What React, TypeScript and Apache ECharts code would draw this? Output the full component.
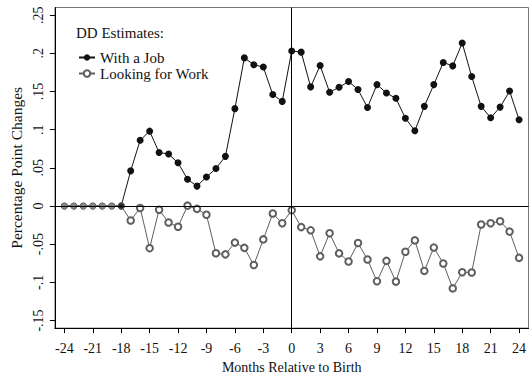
import React, { useEffect, useRef } from "react";
import * as echarts from "echarts";

const months = [-24,-23,-22,-21,-20,-19,-18,-17,-16,-15,-14,-13,-12,-11,-10,-9,-8,-7,-6,-5,-4,-3,-2,-1,0,1,2,3,4,5,6,7,8,9,10,11,12,13,14,15,16,17,18,19,20,21,22,23,24];
const withJob = [0,0,0,0,0,0,0,0.046,0.086,0.098,0.070,0.068,0.0565,0.035,0.026,0.038,0.049,0.065,0.1275,0.194,0.185,0.182,0.146,0.137,0.203,0.2015,0.156,0.184,0.149,0.1555,0.163,0.1525,0.129,0.159,0.148,0.141,0.115,0.0985,0.1305,0.159,0.188,0.1835,0.2135,0.1695,0.1305,0.1155,0.1295,0.1505,0.113];
const lookingForWork = [0,0,0,0,0,0,0,-0.019,-0.0026,-0.0553,-0.005,-0.0217,-0.0273,0.0004,-0.0038,-0.0115,-0.062,-0.0634,-0.048,-0.0549,-0.0774,-0.0438,-0.0098,-0.0226,-0.0056,-0.0277,-0.0319,-0.066,-0.0357,-0.0621,-0.0727,-0.0485,-0.0702,-0.0987,-0.0719,-0.0991,-0.060,-0.0451,-0.0851,-0.0545,-0.0753,-0.108,-0.0868,-0.0872,-0.0243,-0.0226,-0.020,-0.0336,-0.068];
const xTicks = [-24,-21,-18,-15,-12,-9,-6,-3,0,3,6,9,12,15,18,21,24];
const yTicks = [-0.15,-0.1,-0.05,0,0.05,0.1,0.15,0.2,0.25];
const seriesNames = ["With a Job", "Looking for Work"];
const legendTitle = "DD Estimates:";
const xName = "Months Relative to Birth";
const yName = "Percentage Point Changes";

const FONT = "Liberation Serif";

function fmtY(v: number): string {
  if (Math.abs(v) < 1e-9) return "0";
  const s = String(Math.abs(Number(v.toFixed(4)))).replace(/^0/, "");
  return (v < 0 ? "-" : "") + s;
}

export default function App() {
  const ref = useRef<HTMLDivElement>(null);
  useEffect(() => {
    if (!ref.current) return;
    const chart = echarts.init(ref.current, undefined, { renderer: "svg" });
    const preIdx = months.indexOf(-18);
    const lookData = months.map((m, i) => {
      if (i < preIdx) {
        return { value: [m, lookingForWork[i]], symbol: "circle", itemStyle: { color: "#858585" } };
      }
      if (i === preIdx) {
        return { value: [m, lookingForWork[i]], symbol: "circle", itemStyle: { color: "#2a2a2a", borderColor: "#666", borderWidth: 1 } };
      }
      return [m, lookingForWork[i]];
    });
    chart.setOption({
      animation: false,
      grid: {
        left: 52,
        right: -5,
        top: 7.5,
        bottom: 42.3,
        show: true,
        borderColor: "#777",
        borderWidth: 1,
        backgroundColor: "transparent",
      },
      legend: {
        data: seriesNames,
        orient: "vertical",
        left: 73,
        top: 45,
        itemWidth: 16,
        itemHeight: 8,
        itemGap: 1,
        textStyle: { fontFamily: FONT, fontSize: 15, lineHeight: 15, color: "#111" },
      },
      graphic: [
        {
          type: "text",
          left: 76,
          top: 25,
          style: { text: legendTitle, fontFamily: FONT, fontSize: 15, fill: "#111" },
        },
      ],
      xAxis: {
        type: "value",
        min: -25,
        max: 25,
        name: xName,
        nameLocation: "middle",
        nameGap: 29,
        nameTextStyle: { fontFamily: FONT, fontSize: 14, color: "#111" },
        axisLine: { onZero: false, lineStyle: { color: "#000", width: 1 } },
        axisTick: { show: true, length: 5, customValues: xTicks, lineStyle: { color: "#000" } },
        axisLabel: { customValues: xTicks, margin: 13, fontFamily: FONT, fontSize: 14, color: "#111" },
        splitLine: { show: false },
      },
      yAxis: {
        type: "value",
        min: -0.16,
        max: 0.26,
        name: yName,
        nameLocation: "middle",
        nameGap: 28,
        nameTextStyle: { fontFamily: FONT, fontSize: 15.5, color: "#111" },
        axisLine: { show: true, onZero: false, lineStyle: { color: "#000", width: 1 } },
        axisTick: { show: true, length: 5, customValues: yTicks, lineStyle: { color: "#000" } },
        axisLabel: {
          customValues: yTicks,
          rotate: 90,
          margin: 9,
          fontFamily: FONT,
          fontSize: 14,
          color: "#111",
          formatter: (v: number) => fmtY(v),
        },
        splitLine: { show: false },
      },
      series: [
        {
          name: seriesNames[0],
          type: "line",
          data: months.map((m, i) => [m, withJob[i]]),
          symbol: "circle",
          symbolSize: 7,
          itemStyle: { color: "#111" },
          lineStyle: { color: "#111", width: 1 },
          z: 3,
          markLine: {
            silent: true,
            symbol: "none",
            label: { show: false },
            lineStyle: { color: "#000", width: 1, type: "solid" },
            data: [{ yAxis: 0 }, { xAxis: 0 }],
          },
        },
        {
          name: seriesNames[1],
          type: "line",
          data: lookData,
          symbol: "emptyCircle",
          symbolSize: 6.5,
          itemStyle: { color: "#5e5e5e", borderWidth: 1 },
          lineStyle: { color: "#5e5e5e", width: 1 },
          z: 4,
        },
      ],
    });
    return () => chart.dispose();
  }, []);
  return (
    <div
      ref={ref}
      style={{ position: "fixed", left: 0, top: 0, width: 529, height: 379, background: "#fff" }}
    />
  );
}
